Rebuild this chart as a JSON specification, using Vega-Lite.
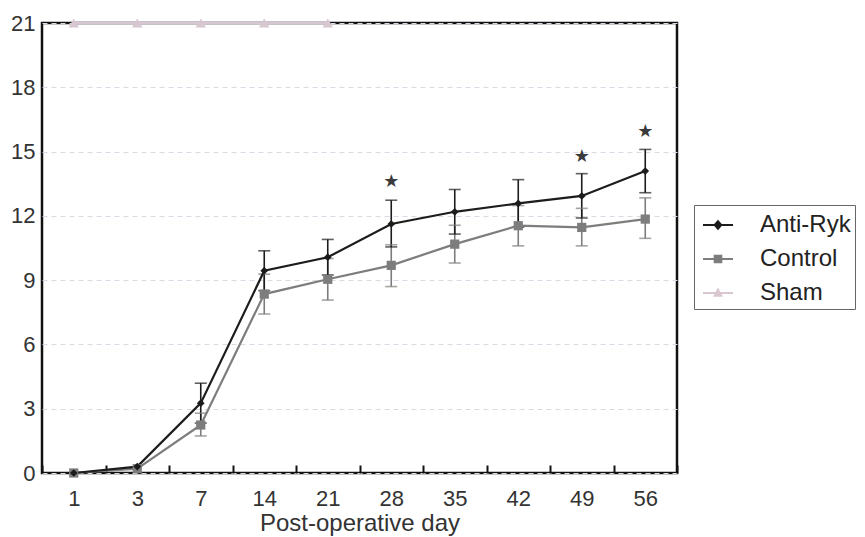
{
  "$schema": "https://vega.github.io/schema/vega-lite/v6.json",
  "width": 635,
  "height": 450,
  "autosize": {"type": "none"},
  "padding": {"left": 42, "top": 23, "right": 188, "bottom": 64},
  "background": "white",
  "config": {
    "font": "Liberation Sans",
    "view": {"stroke": "#111111", "strokeWidth": 2.5},
    "axis": {"labelFont": "Liberation Sans", "titleFont": "Liberation Sans", "labelColor": "#333333", "titleColor": "#333333", "domain": false}
  },
  "datasets": {
    "groups": [
      {"day": 1, "group": "Control", "mean": 0.0, "lo": null, "hi": null},
      {"day": 3, "group": "Control", "mean": 0.2, "lo": null, "hi": null},
      {"day": 7, "group": "Control", "mean": 2.24, "lo": 1.73, "hi": 2.79},
      {"day": 14, "group": "Control", "mean": 8.35, "lo": 7.42, "hi": 9.28},
      {"day": 21, "group": "Control", "mean": 9.04, "lo": 8.07, "hi": 10.01},
      {"day": 28, "group": "Control", "mean": 9.69, "lo": 8.7, "hi": 10.65},
      {"day": 35, "group": "Control", "mean": 10.68, "lo": 9.8, "hi": 11.56},
      {"day": 42, "group": "Control", "mean": 11.54, "lo": 10.6, "hi": 12.48},
      {"day": 49, "group": "Control", "mean": 11.46, "lo": 10.6, "hi": 12.35},
      {"day": 56, "group": "Control", "mean": 11.85, "lo": 10.95, "hi": 12.84},
      {"day": 1, "group": "Anti-Ryk", "mean": 0.0, "lo": null, "hi": null},
      {"day": 3, "group": "Anti-Ryk", "mean": 0.3, "lo": null, "hi": null},
      {"day": 7, "group": "Anti-Ryk", "mean": 3.26, "lo": 2.33, "hi": 4.19},
      {"day": 14, "group": "Anti-Ryk", "mean": 9.44, "lo": 8.51, "hi": 10.37},
      {"day": 21, "group": "Anti-Ryk", "mean": 10.07, "lo": 9.24, "hi": 10.9},
      {"day": 28, "group": "Anti-Ryk", "mean": 11.62, "lo": 10.55, "hi": 12.73},
      {"day": 35, "group": "Anti-Ryk", "mean": 12.19, "lo": 11.15, "hi": 13.23},
      {"day": 42, "group": "Anti-Ryk", "mean": 12.58, "lo": 11.47, "hi": 13.69},
      {"day": 49, "group": "Anti-Ryk", "mean": 12.93, "lo": 11.9, "hi": 13.97},
      {"day": 56, "group": "Anti-Ryk", "mean": 14.09, "lo": 13.08, "hi": 15.1},
      {"day": 1, "group": "Sham", "mean": 21, "lo": null, "hi": null},
      {"day": 3, "group": "Sham", "mean": 21, "lo": null, "hi": null},
      {"day": 7, "group": "Sham", "mean": 21, "lo": null, "hi": null},
      {"day": 14, "group": "Sham", "mean": 21, "lo": null, "hi": null},
      {"day": 21, "group": "Sham", "mean": 21, "lo": null, "hi": null}
    ],
    "stars": [
      {"day": 28, "y": 13.58},
      {"day": 49, "y": 14.74},
      {"day": 56, "y": 15.9}
    ]
  },
  "encoding": {
    "x": {
      "field": "day",
      "type": "ordinal",
      "sort": [1, 3, 7, 14, 21, 28, 35, 42, 49, 56],
      "scale": {"type": "band", "paddingInner": 0, "paddingOuter": 0, "domain": [1, 3, 7, 14, 21, 28, 35, 42, 49, 56]},
      "axis": {
        "title": "Post-operative day",
        "titleFontSize": 24,
        "titleFontWeight": "normal",
        "titlePadding": 2,
        "labelFontSize": 22,
        "labelAngle": 0,
        "labelPadding": 23,
        "tickBand": "extent",
        "ticks": true,
        "tickSize": -8,
        "tickColor": "#111111",
        "tickWidth": 2,
        "grid": false
      }
    }
  },
  "resolve": {"legend": {"shape": "independent", "size": "independent"}},
  "layer": [
    {
      "data": {"name": "groups"},
      "transform": [{"filter": "isValid(datum.lo)"}],
      "mark": {"type": "rule", "strokeWidth": 1.6},
      "encoding": {
        "y": {"field": "lo", "type": "quantitative",
          "scale": {"domain": [0, 21], "nice": false, "zero": true},
          "axis": {"title": null, "values": [0, 3, 6, 9, 12, 15, 18, 21], "labelFontSize": 22, "labelPadding": 7, "ticks": false,
            "grid": true, "gridColor": "#dcd8e4", "gridDash": [5, 4], "gridWidth": 1}},
        "y2": {"field": "hi"},
        "color": {"field": "group", "type": "nominal"}
      }
    },
    {
      "data": {"name": "groups"},
      "transform": [{"filter": "isValid(datum.lo)"}],
      "mark": {"type": "tick", "size": 12, "thickness": 1.6},
      "encoding": {
        "y": {"field": "lo", "type": "quantitative"},
        "color": {"field": "group", "type": "nominal"}
      }
    },
    {
      "data": {"name": "groups"},
      "transform": [{"filter": "isValid(datum.hi)"}],
      "mark": {"type": "tick", "size": 12, "thickness": 1.6},
      "encoding": {
        "y": {"field": "hi", "type": "quantitative"},
        "color": {"field": "group", "type": "nominal"}
      }
    },
    {
      "data": {"name": "groups"},
      "mark": {"type": "line", "strokeWidth": 2.2},
      "encoding": {
        "y": {"field": "mean", "type": "quantitative"},
        "detail": {"field": "group"},
        "color": {
          "field": "group",
          "type": "nominal",
          "scale": {"domain": ["Anti-Ryk", "Control", "Sham"], "range": ["#1c1c1c", "#7d7d7d", "#d8c6d1"]},
          "legend": {
            "title": null,
            "orient": "none",
            "legendX": 652,
            "legendY": 182,
            "strokeColor": "#666666",
            "padding": 4,
            "rowPadding": 6,
            "symbolOffset": 4,
            "labelFontSize": 24,
            "labelColor": "#222222",
            "labelOffset": 26,
            "symbolSize": 900,
            "symbolStrokeWidth": 2,
            "encode": {
              "symbols": {
                "update": {
                  "shape": {"signal": "datum.value === 'Anti-Ryk' ? 'M-1,0H1M-0.22,0L0,-0.25L0.22,0L0,0.25Z' : datum.value === 'Control' ? 'M-1,0H1M-0.22,-0.22H0.22V0.22H-0.22Z' : 'M-1,0H1M-0.22,0.18L0,-0.22L0.22,0.18Z'"},
                  "fill": {"signal": "scale('color', datum.value)"},
                  "fillOpacity": {"value": 1}
                }
              }
            }
          }
        }
      }
    },
    {
      "data": {"name": "groups"},
      "mark": {"type": "point", "filled": true, "opacity": 1},
      "encoding": {
        "y": {"field": "mean", "type": "quantitative"},
        "color": {"field": "group", "type": "nominal"},
        "shape": {"field": "group", "type": "nominal", "legend": null,
          "scale": {"domain": ["Anti-Ryk", "Control", "Sham"], "range": ["diamond", "square", "triangle-up"]}},
        "size": {"field": "group", "type": "nominal", "legend": null,
          "scale": {"domain": ["Anti-Ryk", "Control", "Sham"], "range": [60, 110, 40]}}
      }
    },
    {
      "data": {"name": "stars"},
      "mark": {"type": "text", "text": "★", "font": "DejaVu Sans", "fontSize": 18, "color": "#3a3a3a", "baseline": "middle", "align": "center"},
      "encoding": {
        "y": {"field": "y", "type": "quantitative"}
      }
    }
  ]
}
